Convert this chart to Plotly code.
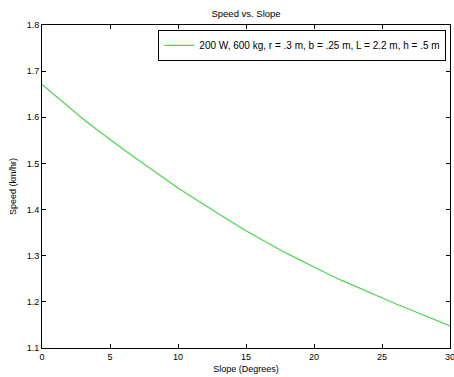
import plotly.graph_objects as go

slope_deg = list(range(0, 31))
speed_kmhr = [1.671, 1.646, 1.621, 1.597, 1.574, 1.551, 1.530, 1.509, 1.488, 1.467,
              1.447, 1.428, 1.409, 1.390, 1.372, 1.354, 1.337, 1.321, 1.305, 1.290,
              1.275, 1.261, 1.247, 1.234, 1.221, 1.208, 1.196, 1.184, 1.172, 1.160,
              1.148]
series_name = "200 W, 600 kg, r = .3 m, b = .25 m, L = 2.2 m, h = .5 m"
x_ticks = [0, 5, 10, 15, 20, 25, 30]
y_ticks = [1.1, 1.2, 1.3, 1.4, 1.5, 1.6, 1.7, 1.8]

font = "Liberation Sans, Arial, sans-serif"

fig = go.Figure()
fig.add_trace(go.Scatter(x=slope_deg, y=speed_kmhr, mode="lines", name=series_name,
                         line=dict(color="#4cd64c", width=1.2)))

axis_common = dict(showline=True, linecolor="black", linewidth=1, mirror="ticks",
                   ticks="inside", ticklen=4, tickcolor="black", showgrid=False,
                   zeroline=False, tickfont=dict(family=font, size=9, color="black"),
                   automargin=False, ticklabeloverflow="allow")

fig.update_layout(
    width=454, height=377,
    margin=dict(l=42, r=4, t=25, b=29),
    paper_bgcolor="white", plot_bgcolor="white",
    title=dict(text="Speed vs. Slope", x=0.542, xanchor="center", y=0.963, yanchor="middle",
               font=dict(family=font, size=9.5, color="black")),
    xaxis=dict(range=[0, 30], tickvals=x_ticks, ticktext=[str(v) for v in x_ticks],
               title=dict(text="Slope (Degrees)", standoff=4,
                          font=dict(family=font, size=9, color="black")),
               **axis_common),
    yaxis=dict(range=[1.1, 1.8], tickvals=y_ticks, ticktext=[f"{v:.1f}" for v in y_ticks],
               title=dict(text="Speed (km/hr)", standoff=8,
                          font=dict(family=font, size=9, color="black")),
               **axis_common),
    showlegend=True,
    legend=dict(x=0.991, y=0.985, xanchor="right", yanchor="top",
                bordercolor="black", borderwidth=1, bgcolor="white",
                font=dict(family=font, size=10, color="black"),
                itemwidth=30, tracegroupgap=0),
)

fig.write_html("out.html", config={"displayModeBar": False},
               post_script="document.body.style.margin='0';document.body.style.overflow='hidden';")
